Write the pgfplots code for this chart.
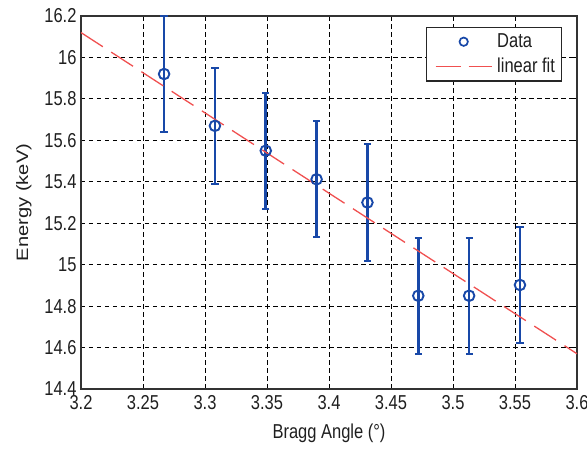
\documentclass[border=0pt]{standalone}
\usepackage{pgfplots}
\pgfplotsset{compat=1.18}
\usepackage{fontspec}
\setmainfont{Liberation Sans}
\usepackage{graphicx}
\definecolor{dblue}{RGB}{24,72,168}
\definecolor{fitred}{RGB}{240,80,80}
\newcommand\vs[1]{\scalebox{1}[1.22]{#1}}
\newcommand\hs[1]{\scalebox{1.22}[1]{#1}}
\begin{document}
\begin{tikzpicture}
\begin{axis}[
  scale only axis,
  width=496bp, height=373bp,
  xmin=3.2, xmax=3.6, ymin=14.4, ymax=16.2,
  xtick={3.2,3.25,...,3.61},
  ytick={14.4,14.6,...,16.21},
  xticklabels={\vs{3.2},\vs{3.25},\vs{3.3},\vs{3.35},\vs{3.4},\vs{3.45},\vs{3.5},\vs{3.55},\vs{3.6}},
  yticklabels={\vs{14.4},\vs{14.6},\vs{14.8},\vs{15},\vs{15.2},\vs{15.4},\vs{15.6},\vs{15.8},\vs{16},\vs{16.2}},
  /pgf/number format/assume math mode=true,
  tick label style={font=\fontsize{16.5bp}{18bp}\selectfont, text=black!88},
  xticklabel style={yshift=-3bp},
  yticklabel style={xshift=-1bp},
  tick style={black, line width=0.8pt},
  major tick length=4bp,
  axis line style={black!80, line width=1.3pt},
  grid=major,
  major grid style={black, line width=0.9pt, dash pattern=on 4.5bp off 3.5bp},
  xlabel={\vs{Bragg Angle (°)}},
  ylabel={\hs{Energy (keV)}},
  label style={font=\fontsize{16.5bp}{18bp}\selectfont, text=black!88},
  xlabel style={yshift=-7bp},
  ylabel style={yshift=6bp},
  legend style={at={(rel axis cs:0.9698,0.9705)}, anchor=north east,
    draw=black!85, line width=1.1pt, fill=white,
    font=\fontsize{16.5bp}{18bp}\selectfont, text=black!88,
    inner xsep=5bp, inner ysep=5bp, row sep=6bp,
    nodes={inner sep=1.5bp}, cells={anchor=west}},
  legend cell align=left,
  clip=true,
]
\addplot[only marks, mark=o, mark size=5.3bp, dblue, line width=1.9pt, forget plot,
  error bars/.cd, y dir=both, y explicit,
  error bar style={line width=2.6pt, dblue},
  error mark options={rotate=90, mark size=3.6bp, line width=2pt, dblue}]
  coordinates {
  (3.267,15.920) +- (0,0.28)
  (3.308,15.670) +- (0,0.28)
  (3.349,15.550) +- (0,0.28)
  (3.390,15.412) +- (0,0.28)
  (3.431,15.300) +- (0,0.28)
  (3.472,14.850) +- (0,0.28)
  (3.513,14.850) +- (0,0.28)
  (3.554,14.902) +- (0,0.28)
  };
\addplot[fitred, line width=1.3pt, dash pattern=on 26bp off 10bp, forget plot]
  coordinates {(3.2,16.12) (3.6,14.57)};
\addlegendimage{legend image code/.code={
  \path[draw=none, fill=none] (-4bp,0) rectangle (60bp,0.1bp);
  \draw[dblue, solid, line width=1.7pt] (28bp,0) circle (4.2bp);}}
\addlegendentry{\vs{Data}}
\addlegendimage{legend image code/.code={
  \path[draw=none, fill=none] (-4bp,0) rectangle (60bp,0.1bp);
  \draw[fitred, solid, line width=1.3pt] (0bp,0) -- (25bp,0) (33bp,0) -- (56bp,0);}}
\addlegendentry{\vs{linear fit}}
\end{axis}
\pgfresetboundingbox
\path ([shift={(-81bp,-60bp)}]current axis.south west) rectangle ([shift={(10bp,16bp)}]current axis.north east);
\end{tikzpicture}
\end{document}
